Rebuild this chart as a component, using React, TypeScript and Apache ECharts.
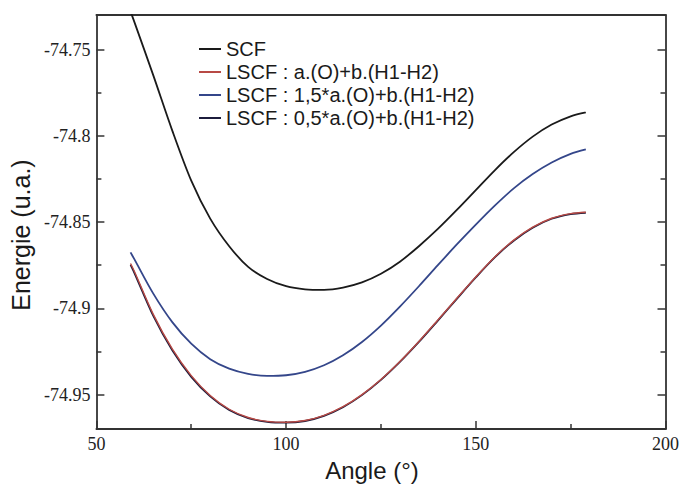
import React, { useEffect, useRef } from "react";
import * as echarts from "echarts";

const angles = [59, 60, 65, 70, 75, 80, 85, 90, 95, 100, 105, 110, 115, 120, 125, 130, 135, 140, 145, 150, 155, 160, 165, 170, 175, 179];

const scf = [-74.728, -74.734, -74.765, -74.797, -74.826, -74.848, -74.864, -74.876, -74.883, -74.8872, -74.889, -74.8893, -74.888, -74.885, -74.88, -74.873, -74.864, -74.854, -74.843, -74.8315, -74.82, -74.8095, -74.8005, -74.7935, -74.7887, -74.7865];

const lscfA = [-74.874, -74.8785, -74.9035, -74.9235, -74.939, -74.9505, -74.9585, -74.9633, -74.9655, -74.966, -74.965, -74.962, -74.957, -74.95, -74.9412, -74.9308, -74.9192, -74.9068, -74.8942, -74.8818, -74.8702, -74.8605, -74.853, -74.8478, -74.8451, -74.8443];

const lscf15 = [-74.8676, -74.8715, -74.8915, -74.908, -74.9205, -74.9295, -74.935, -74.938, -74.9392, -74.9388, -74.9368, -74.933, -74.9272, -74.9195, -74.91, -74.899, -74.8872, -74.875, -74.863, -74.8515, -74.8405, -74.8305, -74.8222, -74.8155, -74.8105, -74.8079];

const lscf05 = [-74.8748, -74.8794, -74.9044, -74.9243, -74.9397, -74.951, -74.9589, -74.9636, -74.9658, -74.9663, -74.9653, -74.9623, -74.9573, -74.9503, -74.9415, -74.9311, -74.9195, -74.9071, -74.8945, -74.8821, -74.8705, -74.8608, -74.8533, -74.8481, -74.8454, -74.8446];

const seriesNames = [
  "SCF",
  "LSCF : a.(O)+b.(H1-H2)",
  "LSCF : 1,5*a.(O)+b.(H1-H2)",
  "LSCF : 0,5*a.(O)+b.(H1-H2)",
];
const seriesColors = ["#1a1a1a", "#b84a45", "#34468a", "#1c1c3c"];
const seriesZ = [3, 4, 3, 2];

const yMajorTicks = [-74.95, -74.9, -74.85, -74.8, -74.75];
const yMinorTicks = [-74.925, -74.875, -74.825, -74.775];
const xLabel = "Angle (°)";
const yLabel = "Energie (u.a.)";

const Y_MIN = -74.97;
const Y_MAX = -74.73;

export default function App() {
  const ref = useRef<HTMLDivElement>(null);
  useEffect(() => {
    if (!ref.current) return;
    const chart = echarts.init(ref.current, null, { renderer: "svg" });
    const axisColor = "#333";
    const tickFont = { fontFamily: "Liberation Serif", fontSize: 18, color: "#222" };
    const pairs = (ys: number[]) => angles.map((a, i) => [a, ys[i]]);
    const allData = [scf, lscfA, lscf15, lscf05];
    const yBase = {
      type: "value",
      min: Y_MIN,
      max: Y_MAX,
      splitLine: { show: false },
    };
    chart.setOption({
      animation: false,
      backgroundColor: "#fff",
      grid: { left: 89, top: 15, right: 14, bottom: 43, containLabel: false },
      legend: {
        orient: "vertical",
        left: 194,
        top: 34,
        icon: "rect",
        itemWidth: 22,
        itemHeight: 2,
        itemGap: 3,
        textStyle: { fontFamily: "Liberation Sans", fontSize: 20, color: "#1a1a1a", lineHeight: 20 },
        data: seriesNames,
      },
      xAxis: [
        {
          type: "value",
          min: 50,
          max: 200,
          interval: 50,
          position: "bottom",
          name: xLabel,
          nameLocation: "middle",
          nameGap: 19,
          nameTextStyle: { fontFamily: "Liberation Sans", fontSize: 24, color: "#1a1a1a", padding: [0, 18, 0, 0] },
          axisLine: { show: true, lineStyle: { color: axisColor, width: 1.8 } },
          axisTick: { show: true, inside: true, length: 8, lineStyle: { color: axisColor, width: 1.5 } },
          minorTick: { show: true, splitNumber: 2, length: 5, lineStyle: { color: axisColor, width: 1.5 } },
          axisLabel: { ...tickFont, margin: 6 },
          splitLine: { show: false },
        },
        {
          type: "value",
          min: 50,
          max: 200,
          position: "top",
          axisLine: { show: true, lineStyle: { color: axisColor, width: 1.8 } },
          axisTick: { show: false },
          axisLabel: { show: false },
          splitLine: { show: false },
        },
      ],
      yAxis: [
        {
          ...yBase,
          position: "left",
          name: yLabel,
          nameLocation: "middle",
          nameGap: 54,
          nameTextStyle: { fontFamily: "Liberation Sans", fontSize: 25, color: "#1a1a1a", padding: [0, 26, 0, 0] },
          axisLine: { show: true, lineStyle: { color: axisColor, width: 1.8 } },
          axisTick: { show: true, inside: true, length: 8, customValues: yMajorTicks, lineStyle: { color: axisColor, width: 1.5 } },
          axisLabel: { ...tickFont, margin: 6, customValues: yMajorTicks },
        },
        {
          ...yBase,
          position: "right",
          axisLine: { show: true, lineStyle: { color: axisColor, width: 1.8 } },
          axisTick: { show: true, inside: true, length: 8, customValues: yMajorTicks, lineStyle: { color: axisColor, width: 1.5 } },
          axisLabel: { show: false },
        },
        {
          ...yBase,
          position: "left",
          axisLine: { show: false },
          axisTick: { show: true, inside: true, length: 5, customValues: yMinorTicks, lineStyle: { color: axisColor, width: 1.5 } },
          axisLabel: { show: false },
        },
        {
          ...yBase,
          position: "right",
          axisLine: { show: false },
          axisTick: { show: true, inside: true, length: 5, customValues: yMinorTicks, lineStyle: { color: axisColor, width: 1.5 } },
          axisLabel: { show: false },
        },
      ],
      series: seriesNames.map((name, i) => ({
        name,
        type: "line",
        xAxisIndex: 0,
        yAxisIndex: 0,
        z: seriesZ[i],
        data: pairs(allData[i]),
        symbol: "none",
        smooth: 0.3,
        clip: true,
        lineStyle: { color: seriesColors[i], width: i === 1 ? 1.4 : 1.8 },
        itemStyle: { color: seriesColors[i] },
      })),
    });
    return () => chart.dispose();
  }, []);
  return (
    <div
      ref={ref}
      style={{ position: "absolute", left: 0, top: 0, width: 682, height: 487 }}
    />
  );
}
